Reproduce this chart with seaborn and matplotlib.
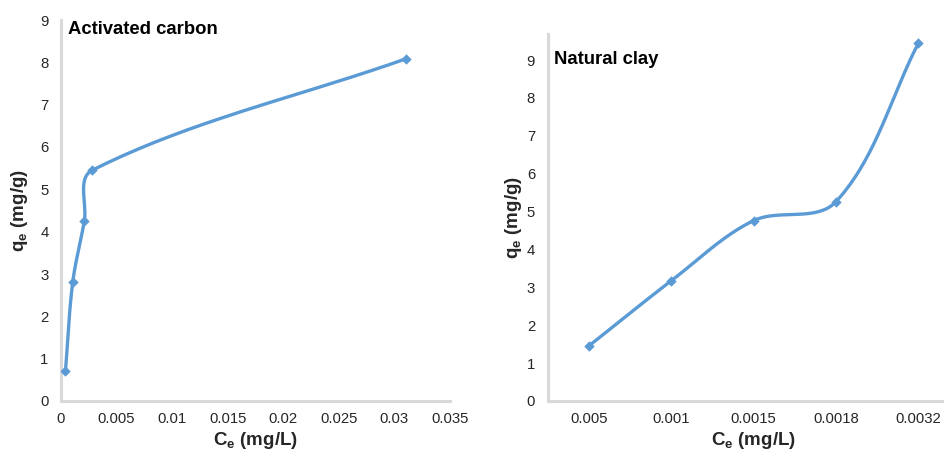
import numpy as np
import matplotlib
matplotlib.use("Agg")
import matplotlib.pyplot as plt
import seaborn as sns

# activated carbon: Ce (mg/L) vs qe (mg/g)
carbon_ce = [0.0004, 0.00105, 0.0021, 0.0028, 0.031]
carbon_qe = [0.7, 2.8, 4.25, 5.45, 8.08]

# natural clay: categories as printed on the axis
clay_labels = ["0.005", "0.001", "0.0015", "0.0018", "0.0032"]
clay_qe = [1.45, 3.17, 4.76, 5.26, 9.44]

BLUE = "#5b9bd5"
GRID = "#d9d9d9"

sns.set_theme(style="white")
plt.rcParams["font.family"] = ["Liberation Sans", "DejaVu Sans"]
plt.rcParams["mathtext.fontset"] = "custom"
plt.rcParams["mathtext.bf"] = "Liberation Sans:bold"
plt.rcParams["mathtext.rm"] = "Liberation Sans"


def smooth(xs, ys, sx, sy, n=40):
    # smoothed line like Excel: bezier per segment, control arms along the
    # neighbour direction, length a third of the segment (pixel space)
    p = np.column_stack([np.asarray(xs, float) * sx, np.asarray(ys, float) * sy])
    ext = np.vstack([p[0], p, p[-1]])
    t = np.linspace(0, 1, n)[:, None]
    out = []
    for i in range(len(p) - 1):
        p0, p3 = ext[i + 1], ext[i + 2]
        seglen = np.hypot(*(p3 - p0))
        d0 = ext[i + 2] - ext[i]
        d1 = ext[i + 3] - ext[i + 1]
        c1 = p0 + d0 / np.hypot(*d0) * seglen / 3
        c2 = p3 - d1 / np.hypot(*d1) * seglen / 3
        seg = (1 - t) ** 3 * p0 + 3 * (1 - t) ** 2 * t * c1 + 3 * (1 - t) * t ** 2 * c2 + t ** 3 * p3
        out.append(seg if i == 0 else seg[1:])
    out = np.vstack(out)
    return out[:, 0] / sx, out[:, 1] / sy


def style(ax):
    for s in ["top", "right"]:
        ax.spines[s].set_visible(False)
    for s in ["left", "bottom"]:
        ax.spines[s].set_color(GRID)
        ax.spines[s].set_linewidth(2.2)
    ax.tick_params(length=0, labelsize=10.7, labelcolor="#262626")
    ax.tick_params(axis="x", pad=8)
    ax.tick_params(axis="y", pad=9)
    ax.grid(False)


fig = plt.figure(figsize=(9.44, 4.54), dpi=100)

# left panel
ax1 = fig.add_axes([61 / 944, 53 / 454, 389 / 944, 381 / 454])
sx, sy = 389 / 0.035, 381 / 9
cx, cy = smooth(carbon_ce, carbon_qe, sx, sy)
sns.lineplot(x=cx, y=cy, sort=False, color=BLUE, linewidth=2.4, ax=ax1)
sns.scatterplot(x=carbon_ce, y=carbon_qe, marker="D", s=24, color=BLUE,
                edgecolor=BLUE, zorder=3, ax=ax1)
ax1.set_xlim(0, 0.035)
ax1.set_ylim(0, 9)
ax1.set_xticks(np.arange(0, 0.0351, 0.005))
ax1.set_xticklabels(["0", "0.005", "0.01", "0.015", "0.02", "0.025", "0.03", "0.035"])
ax1.set_yticks(range(10))
style(ax1)
ax1.set_xlabel(r"$\mathbf{C_e}$ $\mathbf{(mg/L)}$", fontsize=13.5, labelpad=3)
ax1.set_ylabel(r"$\mathbf{q_e}$ $\mathbf{(mg/g)}$", fontsize=13.5, labelpad=7)
ax1.text(0.018, 0.975, "Activated carbon", transform=ax1.transAxes,
         fontsize=13.3, fontweight="bold", color="black", va="center")

# right panel (categorical axis, cropped on the right like the original)
ax2 = fig.add_axes([547.5 / 944, 53 / 454, 412 / 944, 367.5 / 454])
pos = np.arange(len(clay_labels))
sx2, sy2 = 82.4, 37.9
rx, ry = smooth(pos, clay_qe, sx2, sy2)
sns.lineplot(x=rx, y=ry, sort=False, color=BLUE, linewidth=2.4, ax=ax2)
sns.scatterplot(x=pos, y=clay_qe, marker="D", s=24, color=BLUE,
                edgecolor=BLUE, zorder=3, ax=ax2)
ax2.set_xlim(-0.5, len(clay_labels) - 0.5)
ax2.set_ylim(0, 9.7)
ax2.set_xticks(pos)
ax2.set_xticklabels(clay_labels)
ax2.set_yticks(range(10))
style(ax2)
ax2.set_xlabel(r"$\mathbf{C_e}$ $\mathbf{(mg/L)}$", fontsize=13.5, labelpad=3)
ax2.set_ylabel(r"$\mathbf{q_e}$ $\mathbf{(mg/g)}$", fontsize=13.5, labelpad=2)
ax2.text(0.016, 0.93, "Natural clay", transform=ax2.transAxes,
         fontsize=13.3, fontweight="bold", color="black", va="center")

fig.savefig("out.png", dpi=100)
